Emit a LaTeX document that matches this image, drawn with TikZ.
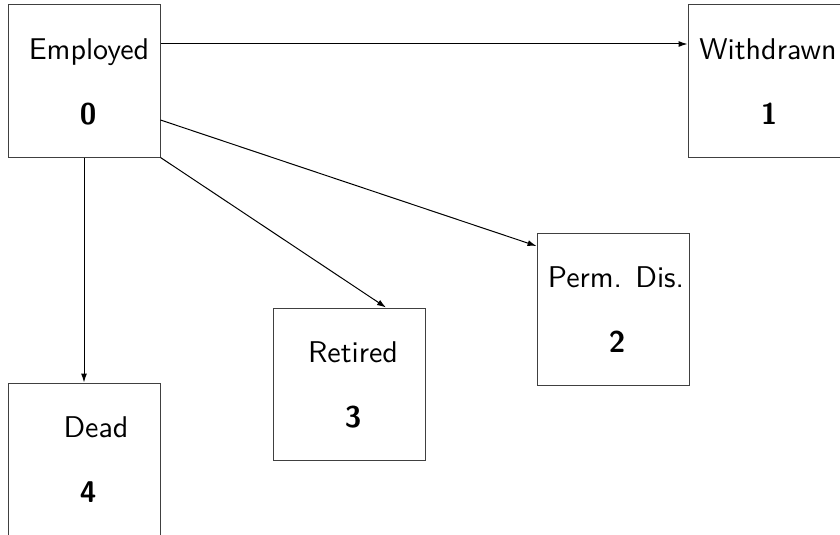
\documentclass[tikz,border=0pt]{standalone}
\usepackage{fontspec}
\usetikzlibrary{arrows.meta}
\newfontfamily\lmsten{lmsans10-regular}[Extension=.otf,BoldFont=lmsans10-bold]
\begin{document}
\begin{tikzpicture}[x=1pt,y=1pt,
  statebox/.style={draw=black!75,line width=1pt,rectangle,minimum width=152pt,minimum height=152pt,inner sep=0pt},
  lbl/.style={font=\lmsten\fontsize{30}{36}\selectfont,anchor=base,inner sep=0pt},
  num/.style={font=\lmsten\bfseries\fontsize{30}{36}\selectfont,anchor=base,inner sep=0pt},
  conn/.style={draw=black,line width=1pt,-{Latex[length=9pt,width=6pt]}}]
\useasboundingbox (0,0) rectangle (840,-535);
\node[statebox] (emp) at (84,-81) {};
\node[statebox] (wd) at (764,-81) {};
\node[statebox] (pd) at (613,-309) {};
\node[statebox] (ret) at (349,-384) {};
\node[statebox] (dead) at (84,-459) {};
\node[lbl] (empL) at ([shift={(5,-55)}]emp.north) {Employed};
\node[num] (empN) at ([shift={(4,-120)}]emp.north) {0};
\node[lbl] (wdL) at ([shift={(4,-55)}]wd.north) {Withdrawn};
\node[num] (wdN) at ([shift={(5,-120)}]wd.north) {1};
\node[lbl] (pdL) at ([shift={(3,-55)}]pd.north) {Perm. Dis.};
\node[num] (pdN) at ([shift={(4,-120)}]pd.north) {2};
\node[lbl] (retL) at ([shift={(4,-55)}]ret.north) {Retired};
\node[num] (retN) at ([shift={(4,-120)}]ret.north) {3};
\node[lbl] (deadL) at ([shift={(12,-55)}]dead.north) {Dead};
\node[num] (deadN) at ([shift={(4,-120)}]dead.north) {4};
\draw[conn] ([yshift=37pt]emp.east) -- ([yshift=37pt]wd.west);
\draw[conn] ([yshift=-39pt]emp.east) -- ([yshift=63pt]pd.west);
\draw[conn] (emp.south east) -- ([xshift=37pt]ret.north);
\draw[conn] (emp.south) -- (dead.north);
\end{tikzpicture}
\end{document}
